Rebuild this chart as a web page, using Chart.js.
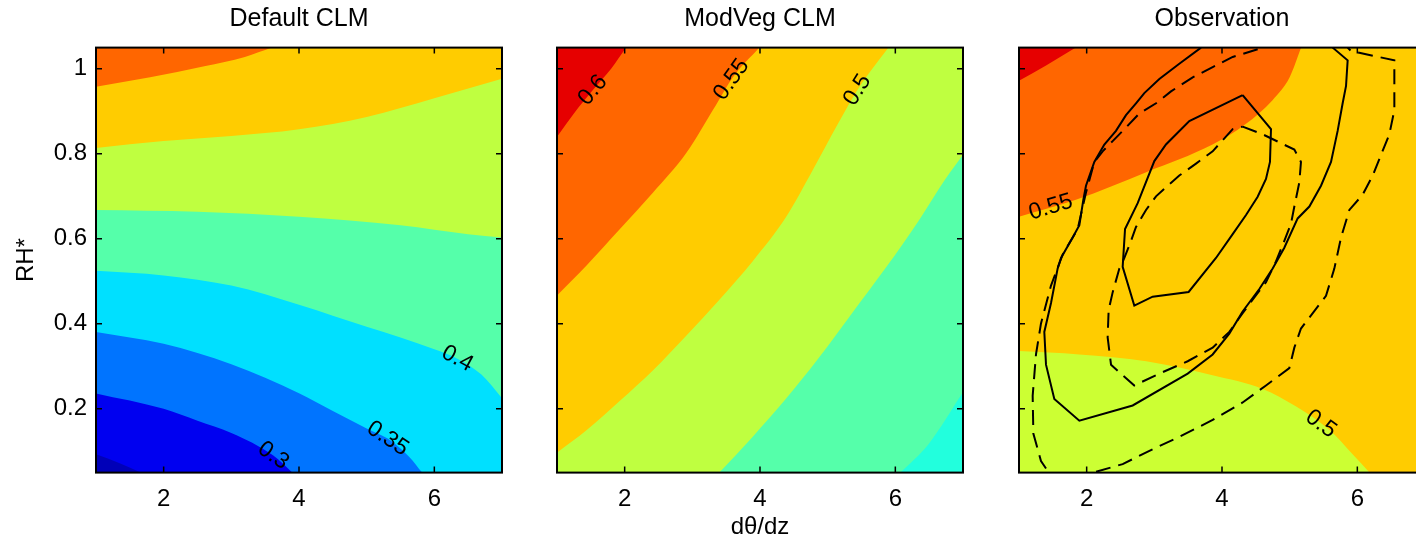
<!DOCTYPE html>
<html>
<head>
<meta charset="utf-8">
<title>RH* vs dθ/dz</title>
<script src="https://cdn.jsdelivr.net/npm/chart.js@4.4.1/dist/chart.umd.min.js"></script>
<style>
  html, body { margin: 0; padding: 0; background: #fff; }
  body { width: 1416px; height: 540px; overflow: hidden; position: relative; }
  .panel { position: absolute; top: 0; }
</style>
</head>
<body>
<canvas class="panel" id="panel-default" width="520" height="540" style="left:0px"></canvas>
<canvas class="panel" id="panel-modveg" width="520" height="540" style="left:461px"></canvas>
<canvas class="panel" id="panel-obs" width="520" height="540" style="left:923px"></canvas>
<script>
// Axes shared by the three panels
var xTicks = [2, 4, 6];
var xTickLabels = ['2', '4', '6'];
var yTicks = [0.2, 0.4, 0.6, 0.8, 1];
var yTickLabels = ['0.2', '0.4', '0.6', '0.8', '1'];

// Default CLM: contour boundaries [dθ/dz, RH*] for each level
var defaultLevels = [0.25, 0.3, 0.35, 0.4, 0.45, 0.5, 0.55];
var default025 = [[1.0, 0.093], [1.35, 0.072], [1.66, 0.05]];
var default030 = [[1.0, 0.236], [2.0, 0.2], [2.5, 0.172], [3.0, 0.143], [3.62, 0.09], [3.9, 0.05]];
var default035 = [[1.0, 0.381], [2.0, 0.353], [3.0, 0.305], [4.0, 0.237], [4.5, 0.195], [5.0, 0.154], [5.31, 0.13], [5.63, 0.087], [5.82, 0.05]];
var default040 = [[1.0, 0.525], [2.0, 0.514], [3.0, 0.49], [4.0, 0.445], [5.0, 0.393], [5.5, 0.368], [6.0, 0.34], [6.34, 0.318], [6.7, 0.28], [7.0, 0.225]];
var default045 = [[1.0, 0.668], [2.5, 0.664], [4.0, 0.652], [5.5, 0.632], [6.5, 0.611], [7.0, 0.603]];
var default050 = [[1.0, 0.814], [2.0, 0.83], [3.0, 0.842], [4.0, 0.858], [5.0, 0.887], [6.0, 0.931], [7.0, 0.977]];
var default055 = [[1.0, 0.958], [1.8, 0.98], [2.6, 1.006], [3.2, 1.028], [3.6, 1.05]];
var defaultLabelLevels = [0.3, 0.35, 0.4];
var defaultLabelX = [3.62, 5.31, 6.34];

// ModVeg CLM
var modvegLevels = [0.4, 0.45, 0.5, 0.55, 0.6];
var modveg040 = [[6.075, 0.05], [6.49, 0.117], [7.0, 0.239]];
var modveg045 = [[3.4, 0.05], [3.89, 0.134], [4.38, 0.223], [4.87, 0.32], [5.36, 0.425], [5.85, 0.53], [6.35, 0.644], [6.74, 0.741], [7.0, 0.798]];
var modveg050 = [[1.0, 0.097], [1.44, 0.15], [1.93, 0.219], [2.42, 0.291], [2.91, 0.372], [3.4, 0.457], [3.89, 0.547], [4.38, 0.65], [4.78, 0.762], [5.15, 0.87], [5.44, 0.95], [5.66, 1.0], [5.9, 1.05]];
var modveg055 = [[1.0, 0.467], [1.44, 0.538], [1.93, 0.623], [2.42, 0.709], [2.91, 0.802], [3.35, 0.915], [3.6, 0.98], [3.99, 1.05]];
var modveg060 = [[1.0, 0.84], [1.25, 0.895], [1.53, 0.95], [1.8, 1.0], [2.02, 1.05]];
var modvegLabelLevels = [0.6, 0.55, 0.5];
var modvegLabelX = [1.53, 3.58, 5.44];

// Observation: filled contours
var obsLevels = [0.5, 0.55, 0.6];
var obs050 = [[1.0, 0.336], [1.89, 0.328], [2.88, 0.312], [3.86, 0.279], [4.6, 0.247], [5.09, 0.206], [5.59, 0.15], [5.93, 0.093], [6.18, 0.05]];
var obs055 = [[1.0, 0.652], [1.84, 0.692], [2.88, 0.757], [3.86, 0.822], [4.35, 0.87], [4.75, 0.927], [5.0, 0.98], [5.17, 1.05]];
var obs060 = [[1.0, 0.972], [1.4, 1.008], [1.84, 1.05]];
var obsLabelLevels = [0.55, 0.5];
var obsLabelX = [1.47, 5.46];

// Observation: density contours (solid and dashed)
var obsSolidInner = [[4.305, 0.938], [4.724, 0.858], [4.709, 0.781], [4.65, 0.741], [4.527, 0.699], [4.355, 0.656], [4.158, 0.611], [3.911, 0.555], [3.507, 0.475], [2.975, 0.464], [2.704, 0.443], [2.532, 0.534], [2.567, 0.623], [2.754, 0.684], [3.0, 0.783], [3.172, 0.822], [3.517, 0.877], [4.305, 0.938]];
var obsSolidOuter = [[3.69, 1.05], [3.369, 1.012], [3.074, 0.976], [2.852, 0.943], [2.729, 0.919], [2.581, 0.891], [2.433, 0.854], [2.261, 0.822], [2.113, 0.781], [1.99, 0.725], [1.951, 0.692], [1.892, 0.632], [1.793, 0.603], [1.621, 0.555], [1.571, 0.53], [1.473, 0.449], [1.374, 0.381], [1.399, 0.304], [1.522, 0.223], [1.892, 0.172], [2.68, 0.208], [3.493, 0.283], [3.862, 0.328], [4.108, 0.377], [4.305, 0.429], [4.552, 0.482], [4.749, 0.53], [4.921, 0.579], [5.118, 0.648], [5.291, 0.676], [5.463, 0.725], [5.611, 0.781], [5.709, 0.854], [5.783, 0.919], [5.833, 0.96], [5.857, 1.02], [5.635, 1.05]];
var obsDashInner = [[4.305, 0.864], [4.601, 0.846], [5.069, 0.81], [5.167, 0.781], [5.143, 0.733], [5.069, 0.676], [5.02, 0.636], [4.921, 0.595], [4.798, 0.547], [4.65, 0.498], [4.453, 0.457], [4.305, 0.425], [4.108, 0.381], [3.862, 0.344], [3.493, 0.312], [3.074, 0.283], [2.704, 0.255], [2.532, 0.279], [2.36, 0.304], [2.31, 0.368], [2.325, 0.433], [2.384, 0.474], [2.483, 0.53], [2.557, 0.555], [2.655, 0.595], [2.729, 0.628], [2.877, 0.668], [3.025, 0.7], [3.197, 0.725], [3.369, 0.749], [3.616, 0.777], [3.862, 0.806], [4.158, 0.858], [4.305, 0.864]];
var obsDashOuter = [[4.527, 1.046], [4.158, 1.028], [3.862, 1.004], [3.567, 0.98], [3.246, 0.947], [3.025, 0.919], [2.778, 0.895], [2.581, 0.862], [2.384, 0.83], [2.236, 0.806], [2.113, 0.781], [1.99, 0.709], [1.867, 0.623], [1.645, 0.563], [1.473, 0.49], [1.325, 0.401], [1.251, 0.328], [1.202, 0.231], [1.212, 0.142], [1.325, 0.077], [1.424, 0.054], [1.6, 0.04], [2.0, 0.04], [2.138, 0.052], [2.532, 0.07], [2.975, 0.105], [3.369, 0.134], [3.862, 0.174], [4.305, 0.215], [4.65, 0.255], [4.995, 0.296], [5.069, 0.344], [5.167, 0.389], [5.537, 0.466], [5.66, 0.53], [5.759, 0.603], [5.882, 0.668], [6.079, 0.704], [6.227, 0.749], [6.473, 0.846], [6.547, 0.903], [6.547, 1.02], [5.906, 1.042], [5.857, 1.05]];

document.addEventListener('DOMContentLoaded', function() {
    Chart.defaults.font.family = "'Liberation Sans', Arial, Helvetica, sans-serif";
    Chart.defaults.color = '#000';

    function toPoints(curve) {
        return curve.map(function(p) { return {x: p[0], y: p[1]}; });
    }

    // Linear interpolation of a boundary at a given x
    function yOnCurve(curve, x) {
        for (var i = 0; i < curve.length - 1; i++) {
            var a = curve[i], b = curve[i + 1];
            if (x >= a[0] && x <= b[0]) {
                return a[1] + (b[1] - a[1]) * (x - a[0]) / (b[0] - a[0]);
            }
        }
        return x < curve[0][0] ? curve[0][1] : curve[curve.length - 1][1];
    }

    function makePanel(canvasId, cfg) {
        var datasets = [];

        // Filled bands: each boundary fills towards the bottom or top edge
        cfg.order.forEach(function(idx) {
            datasets.push({
                data: toPoints(cfg.curves[idx]),
                fill: cfg.sides[idx],
                backgroundColor: cfg.colors[idx],
                borderColor: 'rgba(0,0,0,0)',
                borderWidth: 1,
                pointRadius: 0,
                cubicInterpolationMode: 'monotone'
            });
        });

        (cfg.lines || []).forEach(function(line) {
            datasets.push({
                data: toPoints(line.data),
                fill: false,
                borderColor: '#000',
                borderWidth: 2,
                borderDash: line.dash,
                pointRadius: 0,
                tension: 0
            });
        });

        // Later datasets are painted on top
        datasets.forEach(function(ds, i) { ds.order = datasets.length - i; });

        var decor = {
            id: 'panelDecor',
            beforeDatasetsDraw: function(chart) {
                var a = chart.chartArea, ctx = chart.ctx;
                ctx.save();
                ctx.fillStyle = cfg.background;
                ctx.fillRect(a.left, a.top, a.right - a.left, a.bottom - a.top);
                ctx.restore();
            },
            afterDatasetsDraw: function(chart) {
                var ctx = chart.ctx, xs = chart.scales.x, ys = chart.scales.y;
                var a = chart.chartArea;
                ctx.save();
                ctx.beginPath();
                ctx.rect(a.left, a.top, a.right - a.left, a.bottom - a.top);
                ctx.clip();
                ctx.font = "23px 'Liberation Sans', Arial, sans-serif";
                ctx.fillStyle = '#000';
                ctx.textAlign = 'center';
                ctx.textBaseline = 'middle';
                cfg.labelLevels.forEach(function(level, i) {
                    var curve = cfg.curves[cfg.levels.indexOf(level)];
                    var x = cfg.labelX[i];
                    var px = xs.getPixelForValue(x), py = ys.getPixelForValue(yOnCurve(curve, x));
                    var x1 = xs.getPixelForValue(x - 0.15), y1 = ys.getPixelForValue(yOnCurve(curve, x - 0.15));
                    var x2 = xs.getPixelForValue(x + 0.15), y2 = ys.getPixelForValue(yOnCurve(curve, x + 0.15));
                    ctx.save();
                    ctx.translate(px, py);
                    ctx.rotate(Math.atan2(y2 - y1, x2 - x1));
                    ctx.fillText(String(level), 0, 0);
                    ctx.restore();
                });
                ctx.restore();
            },
            afterDraw: function(chart) {
                var ctx = chart.ctx, a = chart.chartArea;
                var xs = chart.scales.x, ys = chart.scales.y;
                ctx.save();
                ctx.strokeStyle = '#000';
                ctx.lineWidth = 1.5;
                ctx.beginPath();
                xTicks.forEach(function(v) {
                    var p = xs.getPixelForValue(v);
                    ctx.moveTo(p, a.bottom); ctx.lineTo(p, a.bottom - 6);
                    ctx.moveTo(p, a.top); ctx.lineTo(p, a.top + 6);
                });
                yTicks.forEach(function(v) {
                    var p = ys.getPixelForValue(v);
                    ctx.moveTo(a.left, p); ctx.lineTo(a.left + 6, p);
                    ctx.moveTo(a.right, p); ctx.lineTo(a.right - 6, p);
                });
                ctx.stroke();
                ctx.lineWidth = 2;
                ctx.strokeRect(a.left, a.top, a.right - a.left, a.bottom - a.top);
                ctx.restore();
            }
        };

        return new Chart(document.getElementById(canvasId), {
            type: 'line',
            data: { datasets: datasets },
            options: {
                responsive: false,
                animation: false,
                events: [],
                layout: { padding: { left: 0, right: 18, top: 0, bottom: 0 } },
                plugins: {
                    legend: { display: false },
                    tooltip: { enabled: false },
                    title: {
                        display: true,
                        text: cfg.title,
                        fullSize: false,
                        color: '#000',
                        font: { size: 25, weight: 'normal' },
                        padding: { top: 4, bottom: 13.6 }
                    }
                },
                scales: {
                    x: {
                        type: 'linear',
                        min: 1,
                        max: 7,
                        grid: { display: false, drawTicks: false },
                        border: { display: false },
                        afterBuildTicks: function(s) {
                            s.ticks = xTicks.map(function(v) { return {value: v}; });
                        },
                        afterFit: function(s) { s.height = 67.4; },
                        ticks: {
                            font: { size: 24 },
                            padding: 12,
                            maxRotation: 0,
                            autoSkip: false,
                            callback: function(v) { return xTickLabels[xTicks.indexOf(v)]; }
                        },
                        title: {
                            display: !!cfg.xTitle,
                            text: cfg.xTitle || '',
                            font: { size: 24, lineHeight: 1 },
                            padding: { top: 0, bottom: 1 }
                        }
                    },
                    y: {
                        type: 'linear',
                        min: 0.05,
                        max: 1.05,
                        grid: { display: false, drawTicks: false },
                        border: { display: false },
                        afterBuildTicks: function(s) {
                            s.ticks = yTicks.map(function(v) { return {value: v}; });
                        },
                        afterFit: function(s) { s.width = 96; },
                        ticks: {
                            display: cfg.showYLabels,
                            font: { size: 24 },
                            padding: 9,
                            autoSkip: false,
                            callback: function(v) { return yTickLabels[yTicks.indexOf(v)]; }
                        },
                        title: {
                            display: !!cfg.yTitle,
                            text: cfg.yTitle || '',
                            font: { size: 24 },
                            padding: { top: 11.6, bottom: 0 }
                        }
                    }
                }
            },
            plugins: [decor]
        });
    }

    // Default CLM panel
    makePanel('panel-default', {
        title: 'Default CLM',
        yTitle: 'RH*',
        showYLabels: true,
        levels: defaultLevels,
        curves: [default025, default030, default035, default040, default045, default050, default055],
        sides: ['start', 'start', 'start', 'start', 'end', 'end', 'end'],
        colors: ['#0000b8', '#0000f0', '#0074ff', '#00e0ff', '#bfff40', '#ffcc00', '#ff6600'],
        order: [3, 2, 1, 0, 4, 5, 6],
        background: '#55ffaa',
        labelLevels: defaultLabelLevels,
        labelX: defaultLabelX
    });

    // ModVeg CLM panel
    makePanel('panel-modveg', {
        title: 'ModVeg CLM',
        xTitle: 'dθ/dz',
        showYLabels: false,
        levels: modvegLevels,
        curves: [modveg040, modveg045, modveg050, modveg055, modveg060],
        sides: ['start', 'start', 'end', 'end', 'end'],
        colors: ['#22ffdd', '#55ffaa', '#ffcc00', '#ff6600', '#e60000'],
        order: [1, 0, 2, 3, 4],
        background: '#bfff40',
        labelLevels: modvegLabelLevels,
        labelX: modvegLabelX
    });

    // Observation panel
    makePanel('panel-obs', {
        title: 'Observation',
        showYLabels: false,
        levels: obsLevels,
        curves: [obs050, obs055, obs060],
        sides: ['start', 'end', 'end'],
        colors: ['#ccff33', '#ff6600', '#e60000'],
        order: [0, 1, 2],
        background: '#ffcc00',
        labelLevels: obsLabelLevels,
        labelX: obsLabelX,
        lines: [
            { data: obsSolidInner, dash: [] },
            { data: obsSolidOuter, dash: [] },
            { data: obsDashInner, dash: [15, 8] },
            { data: obsDashOuter, dash: [15, 8] }
        ]
    });
});
</script>
</body>
</html>
